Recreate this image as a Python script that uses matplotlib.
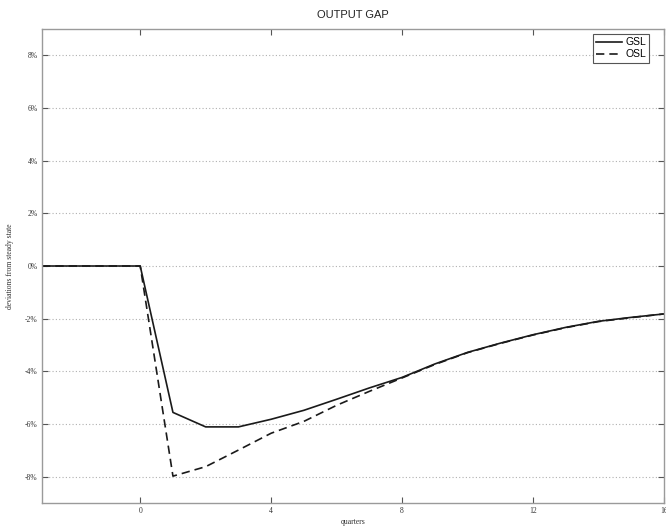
import matplotlib
matplotlib.use("Agg")
import matplotlib.pyplot as plt
from matplotlib.ticker import FuncFormatter

quarters = [-3, -2, -1, 0, 1, 2, 3, 4, 5, 6, 7, 8, 9, 10, 11, 12, 13, 14, 15, 16]
gsl = [0, 0, 0, 0, -5.56, -6.11, -6.11, -5.82, -5.48, -5.06, -4.63, -4.23, -3.72, -3.28, -2.93, -2.61, -2.33, -2.10, -1.95, -1.82]
osl = [0, 0, 0, 0, -7.98, -7.62, -6.99, -6.35, -5.90, -5.29, -4.76, -4.25, -3.74, -3.29, -2.94, -2.62, -2.34, -2.11, -1.96, -1.82]
yticks = [-8, -6, -4, -2, 0, 2, 4, 6, 8]
xticks = [0, 4, 8, 12, 16]

fig = plt.figure(figsize=(6.66, 5.29), dpi=100)
ax = fig.add_axes([42/666, 1 - 503/529, (664-42)/666, (503-29)/529])

ax.plot(quarters, gsl, color="#1a1a1a", lw=1.2, ls="-", label="GSL")
ax.plot(quarters, osl, color="#1a1a1a", lw=1.2, ls=(0, (5, 3)), label="OSL")

ax.set_xlim(-3, 16)
ax.set_ylim(-9, 9)
ax.set_xticks(xticks)
ax.set_yticks(yticks)
ax.yaxis.set_major_formatter(FuncFormatter(lambda v, p: f"{v:.0f}%"))
ax.grid(axis="y", color="#b0b0b0", ls=(0, (1, 2)), lw=0.8)
ax.tick_params(direction="in", top=True, right=True, length=4, width=0.8,
               color="#555555", labelsize=5.5, labelcolor="#333333", pad=3)
for lab in ax.get_xticklabels() + ax.get_yticklabels():
    lab.set_fontfamily("Liberation Serif")
for s in ax.spines.values():
    s.set_color("#9a9a9a")
    s.set_linewidth(1.0)

ax.set_title("OUTPUT GAP", fontsize=8, family="Liberation Sans", color="#222222", pad=8)
ax.set_xlabel("quarters", fontsize=5.5, family="Liberation Serif", color="#333333", labelpad=2)
ax.set_ylabel("deviations from steady state", fontsize=5.5, family="Liberation Serif",
              color="#333333", labelpad=8)

leg = ax.legend(loc="upper right", fontsize=7, prop={"family": "Liberation Sans", "size": 7.5},
                handlelength=2.5, handletextpad=0.3, borderpad=0.3, labelspacing=0.2,
                fancybox=False, framealpha=1, edgecolor="#555555",
                bbox_to_anchor=(0.985, 1.0))
leg.get_frame().set_linewidth(0.8)

fig.savefig("out.png", dpi=100)
